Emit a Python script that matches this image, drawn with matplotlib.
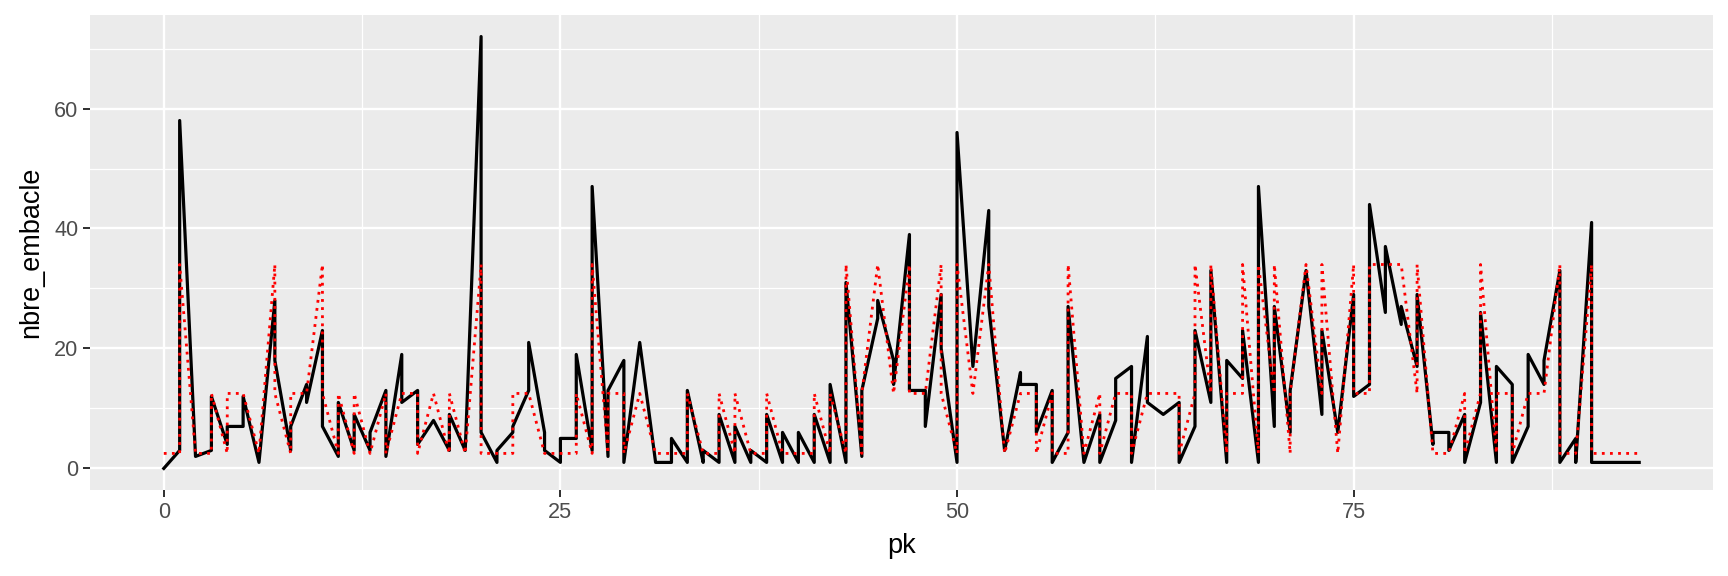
import matplotlib
matplotlib.use("Agg")
import matplotlib.pyplot as plt
from matplotlib.ticker import MultipleLocator

plt.rcParams['font.family'] = ['Liberation Sans', 'DejaVu Sans']

# values, 10 per line
pk = [0, 1, 1, 2, 3, 3, 4, 4, 5, 5,
      6, 7, 7, 8, 8, 9, 9, 10, 10, 11,
      11, 12, 12, 13, 13, 14, 14, 15, 15, 16,
      16, 17, 18, 18, 19, 20, 20, 21, 21, 22,
      22, 23, 23, 24, 24, 25, 25, 26, 26, 27,
      27, 28, 28, 29, 29, 30, 31, 32, 32, 33,
      33, 34, 34, 35, 35, 36, 36, 37, 37, 38,
      38, 39, 39, 40, 40, 41, 41, 42, 42, 43,
      43, 44, 44, 45, 45, 46, 46, 47, 47, 48,
      48, 49, 49, 50, 50, 51, 52, 52, 53, 54,
      54, 55, 55, 56, 56, 57, 57, 58, 59, 59,
      60, 60, 61, 61, 62, 62, 63, 64, 64, 65,
      65, 66, 66, 67, 67, 68, 68, 69, 69, 70,
      70, 71, 71, 72, 73, 73, 74, 75, 75, 76,
      76, 77, 77, 78, 78, 79, 79, 80, 80, 81,
      81, 82, 82, 83, 83, 84, 84, 85, 85, 86,
      86, 87, 87, 88, 88, 89, 89, 90, 90, 91,
      92, 93]

nbre_embacle = [0, 3, 58, 2, 3, 12, 4, 7, 7, 12,
                1, 28, 18, 3, 7, 14, 11, 23, 7, 2,
                11, 3, 9, 3, 6, 13, 2, 19, 11, 13,
                4, 8, 3, 9, 3, 72, 6, 1, 3, 6,
                7, 13, 21, 6, 3, 1, 5, 5, 19, 3,
                47, 2, 13, 18, 1, 21, 1, 1, 5, 1,
                13, 1, 3, 1, 9, 1, 7, 1, 3, 1,
                9, 1, 6, 1, 6, 1, 9, 1, 14, 1,
                31, 2, 13, 25, 28, 18, 14, 39, 13, 13,
                7, 29, 20, 1, 56, 17, 43, 27, 3, 16,
                14, 14, 6, 13, 1, 6, 27, 1, 9, 1,
                8, 15, 17, 1, 22, 11, 9, 11, 1, 7,
                23, 11, 33, 1, 18, 15, 23, 1, 47, 7,
                27, 6, 13, 33, 9, 23, 6, 29, 12, 14,
                44, 26, 37, 24, 27, 17, 29, 4, 6, 6,
                3, 9, 1, 11, 26, 1, 17, 14, 1, 7,
                19, 14, 18, 33, 1, 5, 1, 41, 1, 1,
                1, 1]

# red dotted series (class value per observation)
classe = [2.5, 2.5, 34, 2.5, 2.5, 12.5, 2.5, 12.5, 12.5, 12.5,
          2.5, 34, 12.5, 2.5, 12.5, 12.5, 12.5, 34, 12.5, 2.5,
          12.5, 2.5, 12.5, 2.5, 2.5, 12.5, 2.5, 12.5, 12.5, 12.5,
          2.5, 12.5, 2.5, 12.5, 2.5, 34, 2.5, 2.5, 2.5, 2.5,
          12.5, 12.5, 12.5, 2.5, 2.5, 2.5, 2.5, 2.5, 12.5, 2.5,
          34, 2.5, 12.5, 12.5, 2.5, 12.5, 2.5, 2.5, 2.5, 2.5,
          12.5, 2.5, 2.5, 2.5, 12.5, 2.5, 12.5, 2.5, 2.5, 2.5,
          12.5, 2.5, 2.5, 2.5, 2.5, 2.5, 12.5, 2.5, 12.5, 2.5,
          34, 2.5, 12.5, 34, 34, 12.5, 12.5, 34, 12.5, 12.5,
          12.5, 34, 12.5, 2.5, 34, 12.5, 34, 34, 2.5, 12.5,
          12.5, 12.5, 2.5, 12.5, 2.5, 2.5, 34, 2.5, 12.5, 2.5,
          12.5, 12.5, 12.5, 2.5, 12.5, 12.5, 12.5, 12.5, 2.5, 12.5,
          34, 12.5, 34, 2.5, 12.5, 12.5, 34, 2.5, 34, 12.5,
          34, 2.5, 12.5, 34, 12.5, 34, 2.5, 34, 12.5, 12.5,
          34, 34, 34, 34, 34, 12.5, 34, 2.5, 2.5, 2.5,
          2.5, 12.5, 2.5, 12.5, 34, 2.5, 12.5, 12.5, 2.5, 12.5,
          12.5, 12.5, 12.5, 34, 2.5, 2.5, 2.5, 34, 2.5, 2.5,
          2.5, 2.5]

fig = plt.figure(figsize=(12, 4), dpi=144)
fig.subplots_adjust(left=0.0521, right=0.9913, top=0.974, bottom=0.1493)
ax = fig.add_subplot(111)

ax.plot(pk, nbre_embacle, color='black', lw=1.6, solid_joinstyle='round', zorder=3)
ax.plot(pk, classe, color='red', lw=1.4, linestyle=(0, (1, 1.9)), zorder=4)

# ggplot-like look
ax.set_facecolor('#EBEBEB')
for s in ax.spines.values():
    s.set_visible(False)
ax.set_xlim(-4.65, 97.65)
ax.set_ylim(-3.6, 75.6)
ax.xaxis.set_major_locator(MultipleLocator(25))
ax.xaxis.set_minor_locator(MultipleLocator(12.5))
ax.yaxis.set_major_locator(MultipleLocator(20))
ax.yaxis.set_minor_locator(MultipleLocator(10))
ax.grid(which='major', color='white', lw=1.2)
ax.grid(which='minor', color='white', lw=0.6)
ax.set_axisbelow(True)
ax.tick_params(which='major', length=3.4, width=1.0, color='#333333',
               labelcolor='#4D4D4D', labelsize=10.8, pad=2.5)
ax.tick_params(which='minor', length=0)

ax.set_xlabel('pk', fontsize=13.5, labelpad=5)
ax.set_ylabel('nbre_embacle', fontsize=13.5, labelpad=5)

fig.savefig('out.png', dpi=144)
